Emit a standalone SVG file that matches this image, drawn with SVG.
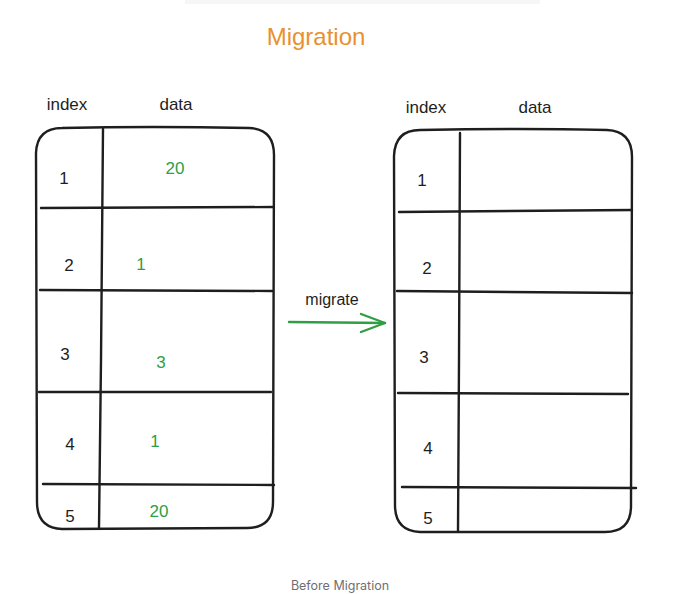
<svg xmlns="http://www.w3.org/2000/svg" width="680" height="594" viewBox="0 0 680 594">
<style>
.ln{fill:none;stroke:#1e1e1e;stroke-width:2.4;stroke-linecap:round;stroke-linejoin:round}
.t{font-family:"Liberation Sans",Arial,sans-serif;font-size:17px;fill:#1e1e1e;text-anchor:middle}
.g{fill:#2f9e44}
.title{font-family:"Liberation Sans",Arial,sans-serif;font-size:24px;fill:#e8912e;text-anchor:middle}
.cap{font-family:Inter,"Liberation Sans",sans-serif;font-size:12.5px;fill:#6f6f6f;text-anchor:middle}
.arr{fill:none;stroke:#2f9e44;stroke-width:2.4;stroke-linecap:round;stroke-linejoin:round}
</style>
<rect x="0" y="0" width="680" height="594" fill="#ffffff"/>
<rect x="185" y="0" width="355" height="4" fill="#f6f6f6"/>
<g id="title"><text class="title" x="316" y="45">Migration</text></g>

<g id="table-before">
<text class="t" x="67" y="110">index</text>
<text class="t" x="176" y="110">data</text>
<path class="ln" d="M62 128 Q150 126 249 128 Q274 129 274 155 L273 502 Q273 528 247 528 L62 529 Q37 528 37 502 L36 153 Q37 128 62 128 Z"/>
<path class="ln" d="M103 129 L101 360 L99 528"/>
<path class="ln" d="M41 208 L273 207"/>
<path class="ln" d="M40 290 L272 291"/>
<path class="ln" d="M39 392 L271 392"/>
<path class="ln" d="M43 484 L274 485"/>
<text class="t" x="64" y="184">1</text>
<text class="t" x="69" y="271">2</text>
<text class="t" x="65" y="360">3</text>
<text class="t" x="70" y="450">4</text>
<text class="t" x="70" y="522">5</text>
<text class="t g" x="175" y="174">20</text>
<text class="t g" x="141" y="270">1</text>
<text class="t g" x="161" y="368">3</text>
<text class="t g" x="155" y="447">1</text>
<text class="t g" x="159" y="517">20</text>
</g>

<g id="connectors">
<path class="arr" d="M289 322 L385 323"/>
<path class="arr" d="M361 314 L385 323 L361 332"/>
<text class="t" x="332" y="305" style="font-size:16px">migrate</text>
</g>

<g id="table-after">
<text class="t" x="426" y="113">index</text>
<text class="t" x="535" y="113">data</text>
<path class="ln" d="M420 130 Q520 128 607 130 Q632 131 632 157 L631 506 Q631 532 605 532 L420 532 Q395 531 395 505 L394 156 Q395 130 420 130 Z"/>
<path class="ln" d="M460 133 L459 360 L458 531"/>
<path class="ln" d="M399 212 L632 210"/>
<path class="ln" d="M397 291 L632 293"/>
<path class="ln" d="M398 393 L628 394"/>
<path class="ln" d="M402 487 L636 488"/>
<text class="t" x="422" y="186">1</text>
<text class="t" x="427" y="274">2</text>
<text class="t" x="424" y="363">3</text>
<text class="t" x="428" y="454">4</text>
<text class="t" x="428" y="524">5</text>
</g>

<text class="cap" x="340" y="590">Before Migration</text>
</svg>
